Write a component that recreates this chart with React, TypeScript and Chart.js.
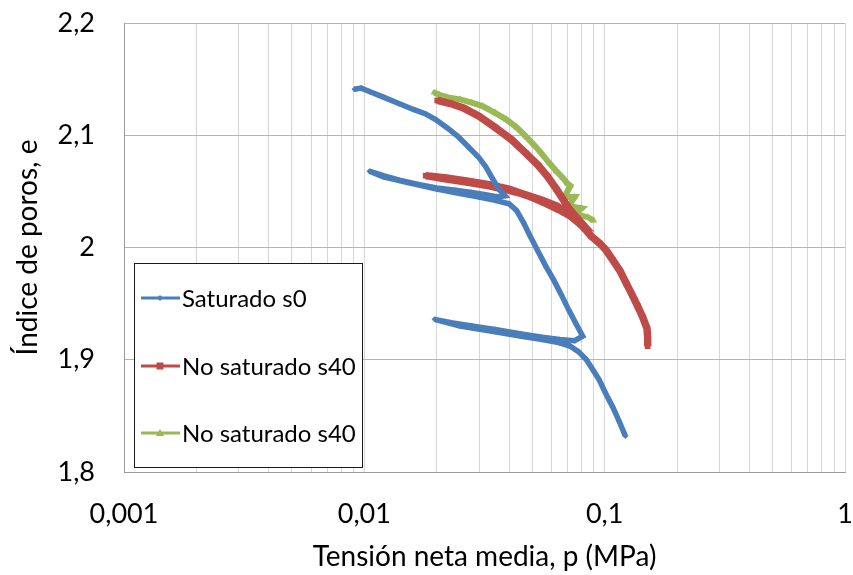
import { useEffect, useRef } from "react";
import { Chart, registerables } from "chart.js";

Chart.register(...registerables);

// Series labels
const seriesNames = ["Saturado s0", "No saturado s40", "No saturado s40"];
const seriesColors = ["#4A7EBB", "#BE4B48", "#98B954"];

// Saturado s0: mean net stress p (MPa) and void ratio e
const s0P = [
  0.0091, 0.0097, 0.0105, 0.012, 0.014, 0.016, 0.018, 0.0198, 0.022, 0.0245, 0.027, 0.03, 0.032, 0.034,
  0.036, 0.0385, 0.036, 0.032, 0.028, 0.024, 0.02, 0.017, 0.014, 0.012, 0.0105, 0.012, 0.015, 0.02, 0.025,
  0.03, 0.035, 0.04, 0.043, 0.046, 0.049, 0.053, 0.057, 0.061, 0.066, 0.071, 0.076, 0.081, 0.075, 0.065,
  0.055, 0.045, 0.035, 0.028, 0.023, 0.0196, 0.025, 0.035, 0.045, 0.055, 0.065, 0.072, 0.078, 0.084, 0.09,
  0.095, 0.101, 0.108, 0.115, 0.122,
];
const s0E = [
  2.141, 2.142, 2.139, 2.134, 2.128, 2.123, 2.119, 2.114, 2.107, 2.099, 2.09, 2.08, 2.072, 2.062,
  2.053, 2.046, 2.045, 2.047, 2.049, 2.051, 2.053, 2.056, 2.06, 2.064, 2.068, 2.063, 2.058, 2.052, 2.048,
  2.045, 2.042, 2.039, 2.033, 2.022, 2.01, 1.996, 1.983, 1.972, 1.958, 1.944, 1.932, 1.921, 1.917, 1.918,
  1.92, 1.923, 1.927, 1.93, 1.933, 1.936, 1.93, 1.925, 1.921, 1.918, 1.915, 1.912, 1.907, 1.9, 1.89,
  1.882, 1.87, 1.858, 1.845, 1.832,
];

// No saturado s40 (first test)
const s40aP = [
  0.0201, 0.023, 0.026, 0.03, 0.035, 0.041, 0.047, 0.053, 0.058, 0.063, 0.068, 0.072, 0.077, 0.07, 0.063,
  0.055, 0.047, 0.04, 0.033, 0.027, 0.022, 0.018, 0.022, 0.027, 0.033, 0.04, 0.048, 0.056, 0.064, 0.072,
  0.08, 0.088, 0.095, 0.101, 0.108, 0.116, 0.123, 0.13, 0.137, 0.144, 0.15, 0.151, 0.151,
];
const s40aE = [
  2.131, 2.128, 2.124, 2.117, 2.107, 2.096, 2.084, 2.073, 2.063, 2.052, 2.041, 2.033, 2.026, 2.031, 2.037,
  2.042, 2.047, 2.051, 2.055, 2.058, 2.061, 2.064, 2.062, 2.059, 2.056, 2.052, 2.046, 2.04, 2.034, 2.028,
  2.02, 2.01, 2.004, 1.998, 1.989, 1.979, 1.968, 1.958, 1.948, 1.938, 1.928, 1.92, 1.912,
];

// No saturado s40 (second test)
const s40bP = [
  0.0195, 0.0205, 0.022, 0.025, 0.028, 0.031, 0.035, 0.039, 0.043, 0.047, 0.051, 0.055, 0.059, 0.063,
  0.067, 0.07, 0.072, 0.068, 0.075, 0.071, 0.08, 0.075, 0.085, 0.09,
];
const s40bE = [
  2.138, 2.136, 2.134, 2.132, 2.129, 2.126, 2.12, 2.114, 2.107, 2.099, 2.091, 2.083, 2.075, 2.068,
  2.062, 2.057, 2.055, 2.045, 2.045, 2.037, 2.035, 2.03, 2.027, 2.024,
];

// Axis ticks
const xTickValues = [
  0.001, 0.002, 0.003, 0.004, 0.005, 0.006, 0.007, 0.008, 0.009,
  0.01, 0.02, 0.03, 0.04, 0.05, 0.06, 0.07, 0.08, 0.09,
  0.1, 0.2, 0.3, 0.4, 0.5, 0.6, 0.7, 0.8, 0.9, 1,
];
const xLabelValues = [0.001, 0.01, 0.1, 1];
const yTickValues = [1.8, 1.9, 2, 2.1, 2.2];

const xTitle = "Tensión neta media, p (MPa)";
const yTitle = "Índice de poros, e";

const FONT = "Lato, 'Open Sans', sans-serif";
const pointStyles = ["rectRot", "rect", "triangle"];

const fmt = (v: number) => String(v).replace(".", ",");

const toPoints = (xs: number[], ys: number[]) => xs.map((x, i) => ({ x, y: ys[i] }));

// Legend drawn inside the plot area, boxed
const boxLegend = {
  id: "boxLegend",
  afterDraw(chart: any) {
    const { ctx } = chart;
    const left = 134;
    const top = 263;
    const w = 228;
    const h = 204;
    ctx.save();
    ctx.fillStyle = "#ffffff";
    ctx.fillRect(left, top, w, h);
    ctx.strokeStyle = "#1a1a1a";
    ctx.lineWidth = 1;
    ctx.strokeRect(left + 0.5, top + 0.5, w, h);
    const rows = [298, 366, 433];
    chart.data.datasets.forEach((ds: any, i: number) => {
      const y = rows[i];
      ctx.strokeStyle = ds.borderColor;
      ctx.lineWidth = 3;
      ctx.beginPath();
      ctx.moveTo(141, y);
      ctx.lineTo(180, y);
      ctx.stroke();
      ctx.fillStyle = ds.borderColor;
      const cx = 160;
      if (i === 0) {
        ctx.beginPath();
        ctx.moveTo(cx, y - 3);
        ctx.lineTo(cx + 3, y);
        ctx.lineTo(cx, y + 3);
        ctx.lineTo(cx - 3, y);
        ctx.fill();
      } else if (i === 1) {
        ctx.fillRect(cx - 3.5, y - 3.5, 7, 7);
      } else {
        ctx.beginPath();
        ctx.moveTo(cx, y - 4);
        ctx.lineTo(cx + 4, y + 3);
        ctx.lineTo(cx - 4, y + 3);
        ctx.fill();
      }
      ctx.fillStyle = "#000000";
      ctx.font = `24px ${FONT}`;
      ctx.textBaseline = "middle";
      ctx.textAlign = "left";
      ctx.fillText(ds.label, 182, y + 1);
    });
    ctx.restore();
  },
};

export default function App() {
  const canvasRef = useRef<HTMLCanvasElement | null>(null);

  useEffect(() => {
    document.body.style.margin = "0";
    const canvas = canvasRef.current;
    if (!canvas) return;
    const series = [
      toPoints(s0P, s0E),
      toPoints(s40aP, s40aE),
      toPoints(s40bP, s40bE),
    ];
    const widths = [5.5, 7.5, 6];
    const radii = [3, 4, 4];
    const chart = new Chart(canvas, {
      type: "line",
      data: {
        datasets: series.map((data, i) => ({
          label: seriesNames[i],
          data,
          borderColor: seriesColors[i],
          backgroundColor: seriesColors[i],
          borderWidth: widths[i],
          pointStyle: pointStyles[i] as any,
          pointRadius: radii[i],
          pointBorderWidth: 0,
          tension: 0,
          fill: false,
        })),
      },
      options: {
        responsive: false,
        animation: false,
        events: [],
        layout: { padding: { left: 0, right: 8, top: 23, bottom: 0 } },
        plugins: {
          legend: { display: false },
          tooltip: { enabled: false },
        },
        scales: {
          x: {
            type: "logarithmic",
            min: 0.001,
            max: 1,
            afterBuildTicks: (scale: any) => {
              scale.ticks = xTickValues.map((v) => ({ value: v }));
            },
            afterFit: (scale: any) => {
              scale.height = 103;
              scale.paddingLeft = 0;
              scale.paddingRight = 0;
            },
            ticks: {
              autoSkip: false,
              maxRotation: 0,
              padding: 26,
              color: "#000000",
              font: { family: FONT, size: 27 },
              callback: (v: any) => (xLabelValues.includes(Number(v)) ? fmt(Number(v)) : ""),
            },
            grid: { color: "#d6d6d6", lineWidth: 1, drawTicks: false },
            border: { display: true, color: "#9a9a9a", width: 1 },
            title: {
              display: true,
              text: xTitle,
              color: "#000000",
              font: { family: FONT, size: 28 },
              padding: { top: 0, bottom: 1 },
            },
          },
          y: {
            type: "linear",
            min: 1.8,
            max: 2.2,
            afterBuildTicks: (scale: any) => {
              scale.ticks = yTickValues.map((v) => ({ value: v }));
            },
            afterFit: (scale: any) => {
              scale.width = 124;
              scale.paddingTop = 0;
              scale.paddingBottom = 0;
            },
            ticks: {
              padding: 29,
              color: "#000000",
              font: { family: FONT, size: 27 },
              callback: (v: any) => fmt(Number(Number(v).toFixed(1))),
            },
            grid: { color: "#b4b4b4", lineWidth: 1, drawTicks: false },
            border: { display: true, color: "#9a9a9a", width: 1 },
            title: {
              display: true,
              text: yTitle,
              color: "#000000",
              font: { family: FONT, size: 28 },
              padding: { top: 11, bottom: 0 },
            },
          },
        },
      },
      plugins: [boxLegend],
    });
    return () => chart.destroy();
  }, []);

  return <canvas ref={canvasRef} width={853} height={575} style={{ display: "block" }} />;
}
